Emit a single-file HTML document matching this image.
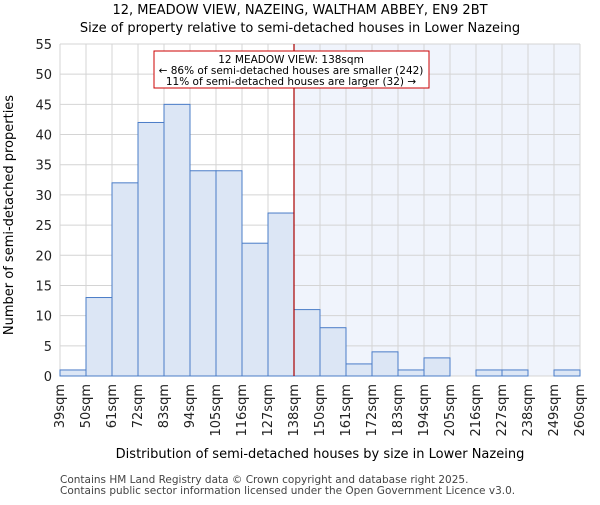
<!DOCTYPE html>
<html><head><meta charset="utf-8"><style>body{margin:0;background:#fff}svg text{font-family:"DejaVu Sans","Liberation Sans",sans-serif}</style></head>
<body>
<svg id="c" width="600" height="500" xmlns="http://www.w3.org/2000/svg"></svg>
<script>
const categories=["39sqm","50sqm","61sqm","72sqm","83sqm","94sqm","105sqm","116sqm","127sqm","138sqm","150sqm","161sqm","172sqm","183sqm","194sqm","205sqm","216sqm","227sqm","238sqm","249sqm","260sqm"];
const counts=[1,13,32,42,45,34,34,22,27,11,8,2,4,1,3,0,1,1,0,1];
const yTicks=[0,5,10,15,20,25,30,35,40,45,50,55];
const markerIndex=9;
const NS="http://www.w3.org/2000/svg";
const svg=document.getElementById('c');
const L=60,R=580,T=44,B=376,yMax=55;
const bw=(R-L)/counts.length;
const x=i=>L+i*bw, y=v=>B-(B-T)*v/yMax;
function mk(t,a,txt){const e=document.createElementNS(NS,t);for(const k in a)e.setAttribute(k,a[k]);if(txt!=null)e.textContent=txt;svg.appendChild(e);return e;}
let e;
e=mk('rect',{x:x(markerIndex),y:T,width:R-x(markerIndex),height:B-T,fill:'#f0f4fc'});


yTicks.forEach(v=>{e=mk('line',{x1:L,x2:R,y1:y(v),y2:y(v),stroke:'#d4d4d4','stroke-width':1});


e=mk('text',{x:L-8,y:y(v)+5,'text-anchor':'end','font-size':13,fill:'#222'},v);

});
categories.forEach((c,i)=>{e=mk('line',{x1:x(i),x2:x(i),y1:T,y2:B,stroke:'#d4d4d4','stroke-width':1});


const tx=x(i)+4;e=mk('text',{x:tx,y:B+8,'text-anchor':'end','font-size':13,fill:'#222',transform:`rotate(-90 ${tx} ${B+8})`},c);

});
counts.forEach((v,i)=>{e=mk('rect',{x:x(i),y:y(v),width:bw,height:B-y(v),fill:'#dce6f5',stroke:'#4a7cc7','stroke-width':1});

});
e=mk('line',{x1:x(markerIndex),x2:x(markerIndex),y1:T,y2:B,stroke:'#aa0000','stroke-width':1.2});


e=mk('rect',{x:154,y:51,width:275,height:37,fill:'#fff',stroke:'#cc0000','stroke-width':1});


[["12 MEADOW VIEW: 138sqm",63],["← 86% of semi-detached houses are smaller (242)",74],["11% of semi-detached houses are larger (32) →",85]].forEach(a=>{e=mk('text',{x:291,y:a[1],'text-anchor':'middle','font-size':10.5,fill:'#000'},a[0]);

});
e=mk('text',{x:300,y:14,'text-anchor':'middle','font-size':13,fill:'#000'},"12, MEADOW VIEW, NAZEING, WALTHAM ABBEY, EN9 2BT");


e=mk('text',{x:300,y:32,'text-anchor':'middle','font-size':13,fill:'#000'},"Size of property relative to semi-detached houses in Lower Nazeing");


e=mk('text',{x:320,y:458,'text-anchor':'middle','font-size':13,fill:'#000'},"Distribution of semi-detached houses by size in Lower Nazeing");


e=mk('text',{x:13,y:215,'text-anchor':'middle','font-size':13,fill:'#000',transform:'rotate(-90 13 215)'},"Number of semi-detached properties");


e=mk('text',{x:60,y:483,'font-size':10.5,fill:'#444'},"Contains HM Land Registry data © Crown copyright and database right 2025.");


e=mk('text',{x:60,y:494,'font-size':10.5,fill:'#444'},"Contains public sector information licensed under the Open Government Licence v3.0.");


</script>
</body></html>
